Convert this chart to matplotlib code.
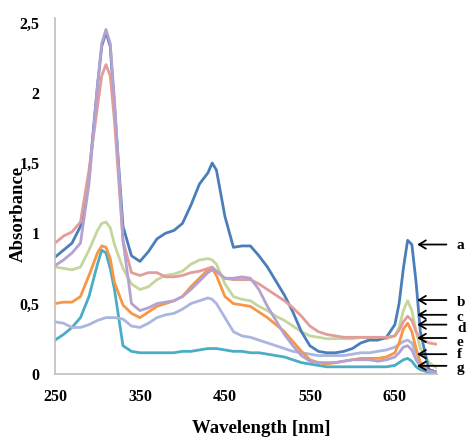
import matplotlib.pyplot as plt

# UV-vis spectra, values
wl = [250, 260, 270, 280, 290, 300, 305, 310, 315, 320, 330, 340, 350, 360, 370,
      380, 390, 400, 410, 420, 430, 435, 440, 450, 460, 470, 480, 490, 500, 510,
      520, 530, 540, 550, 560, 570, 580, 590, 600, 610, 620, 630, 640, 650, 655,
      660, 665, 670, 675, 680, 690, 700]

a = [0.83, 0.88, 0.93, 1.05, 1.40, 2.05, 2.33, 2.43, 2.33, 1.90, 1.05, 0.84, 0.80, 0.87, 0.96,
     1.00, 1.02, 1.07, 1.20, 1.35, 1.43, 1.50, 1.45, 1.12, 0.90, 0.91, 0.91, 0.84, 0.76, 0.66,
     0.56, 0.44, 0.30, 0.20, 0.16, 0.15, 0.15, 0.16, 0.18, 0.22, 0.24, 0.24, 0.26, 0.35, 0.50,
     0.75, 0.95, 0.92, 0.65, 0.30, 0.03, 0.01]
b = [0.76, 0.75, 0.74, 0.76, 0.88, 1.02, 1.07, 1.08, 1.04, 0.92, 0.75, 0.64, 0.60, 0.62, 0.67,
     0.70, 0.71, 0.73, 0.78, 0.81, 0.82, 0.81, 0.78, 0.64, 0.55, 0.53, 0.52, 0.48, 0.45, 0.41,
     0.38, 0.34, 0.30, 0.27, 0.26, 0.25, 0.25, 0.25, 0.25, 0.26, 0.25, 0.25, 0.25, 0.27, 0.33,
     0.45, 0.52, 0.45, 0.30, 0.18, 0.08, 0.04]
c = [0.93, 0.98, 1.01, 1.08, 1.45, 1.90, 2.12, 2.20, 2.12, 1.80, 0.95, 0.72, 0.70, 0.72, 0.72,
     0.69, 0.69, 0.70, 0.72, 0.73, 0.75, 0.76, 0.73, 0.68, 0.67, 0.67, 0.67, 0.64, 0.60, 0.56,
     0.52, 0.47, 0.41, 0.34, 0.30, 0.28, 0.27, 0.26, 0.26, 0.26, 0.26, 0.26, 0.26, 0.27, 0.31,
     0.37, 0.41, 0.38, 0.30, 0.25, 0.22, 0.21]
d = [0.50, 0.51, 0.51, 0.55, 0.70, 0.86, 0.91, 0.90, 0.82, 0.65, 0.49, 0.43, 0.40, 0.44, 0.48,
     0.50, 0.52, 0.55, 0.62, 0.68, 0.74, 0.75, 0.70, 0.55, 0.50, 0.49, 0.48, 0.44, 0.40, 0.35,
     0.30, 0.23, 0.16, 0.10, 0.08, 0.07, 0.08, 0.09, 0.10, 0.11, 0.11, 0.11, 0.12, 0.15, 0.22,
     0.32, 0.36, 0.30, 0.18, 0.08, 0.03, 0.01]
e = [0.37, 0.36, 0.33, 0.33, 0.35, 0.38, 0.39, 0.40, 0.40, 0.40, 0.39, 0.34, 0.33, 0.36, 0.40,
     0.42, 0.43, 0.46, 0.50, 0.52, 0.54, 0.53, 0.50, 0.40, 0.30, 0.27, 0.26, 0.24, 0.22, 0.20,
     0.18, 0.16, 0.15, 0.14, 0.13, 0.13, 0.13, 0.13, 0.14, 0.15, 0.15, 0.16, 0.17, 0.19, 0.21,
     0.23, 0.24, 0.22, 0.15, 0.08, 0.03, 0.01]
f = [0.77, 0.81, 0.86, 0.93, 1.35, 2.05, 2.35, 2.45, 2.35, 1.95, 0.95, 0.50, 0.45, 0.47, 0.50,
     0.51, 0.52, 0.55, 0.60, 0.66, 0.72, 0.74, 0.73, 0.68, 0.68, 0.69, 0.68, 0.60, 0.48, 0.38,
     0.28, 0.20, 0.13, 0.09, 0.08, 0.08, 0.08, 0.09, 0.10, 0.10, 0.10, 0.09, 0.10, 0.12, 0.15,
     0.19, 0.20, 0.17, 0.10, 0.05, 0.02, 0.01]
g = [0.24, 0.28, 0.33, 0.40, 0.55, 0.78, 0.88, 0.86, 0.75, 0.60, 0.20, 0.16, 0.15, 0.15, 0.15,
     0.15, 0.15, 0.16, 0.16, 0.17, 0.18, 0.18, 0.18, 0.17, 0.16, 0.16, 0.15, 0.15, 0.14, 0.13,
     0.12, 0.10, 0.08, 0.07, 0.06, 0.05, 0.05, 0.05, 0.05, 0.05, 0.05, 0.05, 0.05, 0.06, 0.08,
     0.10, 0.11, 0.09, 0.05, 0.03, 0.01, 0.01]

# curve marker labels, the heights their arrows point at, and where the letters sit
marks = ["a", "b", "c", "d", "e", "f", "g"]
mark_y = [0.92, 0.525, 0.42, 0.35, 0.255, 0.14, 0.057]
mark_text_y = [0.91, 0.51, 0.40, 0.32, 0.22, 0.14, 0.04]

yticks = [0, 0.5, 1, 1.5, 2, 2.5]
ytick_labels = ["0", "0,5", "1", "1,5", "2", "2,5"]
xticks = [250, 350, 450, 550, 650]

plt.rcParams["font.family"] = ["Liberation Serif", "DejaVu Serif"]

fig = plt.figure(figsize=(4.68, 4.44), dpi=100)
ax = fig.add_axes([0.1175, 0.158, 0.817, 0.801])

series = [(g, "#4bacc6"), (e, "#a9b6df"), (d, "#f79646"), (b, "#c3d69b"),
          (a, "#4a7ebb"), (c, "#e29c9a"), (f, "#b3a2d0")]
for vals, col in series:
    ax.plot(wl, vals, color=col, lw=2.0, solid_capstyle="round")

ax.set_xlim(250, 700)
ax.set_ylim(0, 2.53)
ax.set_xticks(xticks)
ax.set_yticks(yticks)
ax.set_yticklabels(ytick_labels)
ax.tick_params(length=0, labelsize=11.5, pad=11)
for lab in ax.get_xticklabels() + ax.get_yticklabels():
    lab.set_fontweight("bold")

for s in ["top", "right"]:
    ax.spines[s].set_visible(False)
for s in ["left", "bottom"]:
    ax.spines[s].set_color("#c4bcbc")
    ax.spines[s].set_linewidth(1.2)

ax.set_xlabel("Wavelength [nm]", fontsize=13.5, fontweight="bold")
ax.xaxis.set_label_coords(0.54, -0.13)
ax.set_ylabel("Absorbance", fontsize=13.5, fontweight="bold")
ax.yaxis.set_label_coords(-0.075, 0.45)

for lab, y, ty in zip(marks, mark_y, mark_text_y):
    ax.annotate("", xy=(673, y), xytext=(714, y), annotation_clip=False,
                arrowprops=dict(arrowstyle="->,head_width=0.3,head_length=0.5",
                                color="black", lw=1.3))
    ax.text(723, ty, lab, fontsize=11, fontweight="bold", va="center",
            ha="left", clip_on=False)

fig.savefig("out.png", dpi=100)
